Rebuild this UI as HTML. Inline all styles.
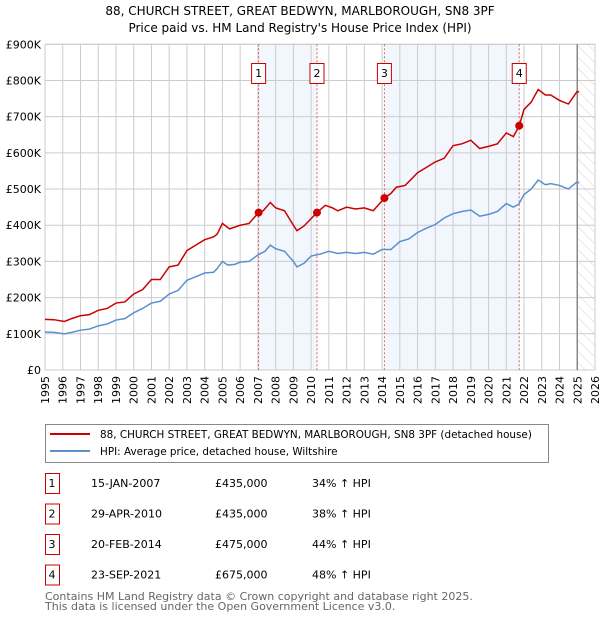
<!DOCTYPE html>
<html><head><meta charset="utf-8"><style>
body{margin:0;background:#fff;font-family:"DejaVu Sans","Liberation Sans",sans-serif;}
svg text{font-family:"DejaVu Sans","Liberation Sans",sans-serif;}
</style></head><body>
<svg id="chart" width="600" height="620" viewBox="0 0 600 620" xmlns="http://www.w3.org/2000/svg">
<defs><pattern id="hatch" width="8" height="8" patternUnits="userSpaceOnUse" patternTransform="rotate(-45)"><line x1="0" y1="0" x2="0" y2="8" stroke="#c8c8c8" stroke-width="0.8"/></pattern></defs>
<text x="300" y="15" font-size="12" text-anchor="middle">88, CHURCH STREET, GREAT BEDWYN, MARLBOROUGH, SN8 3PF</text>
<text x="300" y="32" font-size="12" text-anchor="middle">Price paid vs. HM Land Registry's House Price Index (HPI)</text>
<g id="plot"></g>
<g>
<rect x="45.5" y="424.5" width="503" height="38" fill="#fff" stroke="#888"/>
<line x1="50" y1="434" x2="90" y2="434" stroke="#cc0000" stroke-width="2"/>
<text x="100" y="438" font-size="10.4">88, CHURCH STREET, GREAT BEDWYN, MARLBOROUGH, SN8 3PF (detached house)</text>
<line x1="50" y1="451" x2="90" y2="451" stroke="#5b8fd0" stroke-width="2"/>
<text x="100" y="455" font-size="10.4">HPI: Average price, detached house, Wiltshire</text>
</g>
<g id="table" font-size="11"></g>
<text x="45" y="600" font-size="11" fill="#666">Contains HM Land Registry data © Crown copyright and database right 2025.</text>
<text x="45" y="610" font-size="11" fill="#666">This data is licensed under the Open Government Licence v3.0.</text>
</svg>
<script>
const hpiYears=[1995,1995.5,1996.1,1996.5,1997,1997.5,1998,1998.5,1999,1999.5,2000,2000.5,2001,2001.5,2002,2002.5,2003,2003.5,2004,2004.5,2004.7,2005,2005.3,2005.7,2006,2006.5,2007,2007.4,2007.7,2008,2008.5,2009,2009.2,2009.6,2010,2010.5,2011,2011.5,2012,2012.5,2013,2013.5,2014,2014.5,2015,2015.5,2016,2016.5,2017,2017.5,2018,2018.5,2019,2019.5,2020,2020.5,2021,2021.4,2021.7,2022,2022.4,2022.8,2023.2,2023.5,2024,2024.5,2025,2025.1];
const hpiValues=[105,104,100,104,110,113,122,127,138,142,158,170,185,190,210,220,248,258,268,270,280,300,290,292,298,300,318,328,345,335,328,300,285,295,315,320,328,322,325,322,325,320,333,333,355,362,380,392,402,420,432,438,442,425,430,438,460,450,458,485,500,525,512,515,510,500,520,517];
const priceYears=[1995,1995.5,1996.1,1996.5,1997,1997.5,1998,1998.5,1999,1999.5,2000,2000.5,2001,2001.5,2002,2002.5,2003,2003.5,2004,2004.5,2004.7,2005,2005.4,2006,2006.5,2007.04,2007.3,2007.7,2008,2008.5,2009,2009.2,2009.6,2010.33,2010.8,2011.2,2011.5,2012,2012.5,2013,2013.5,2014.13,2014.5,2014.8,2015.3,2016,2016.5,2017,2017.5,2018,2018.5,2019,2019.5,2020,2020.5,2021,2021.4,2021.73,2022,2022.4,2022.8,2023.2,2023.5,2024,2024.5,2025,2025.1];
const priceValues=[140,139,134,142,150,153,165,170,185,188,210,222,250,250,285,290,330,345,360,368,375,405,390,400,405,435,440,463,448,440,400,385,398,435,455,448,440,450,445,448,440,475,488,505,510,545,560,575,585,620,625,635,612,618,625,655,645,675,720,740,775,760,760,745,735,770,768];
const saleYears=[2007.04,2010.33,2014.13,2021.73];
const saleValues=[435,435,475,675];
const saleLabels=["1","2","3","4"];
const saleDates=["15-JAN-2007","29-APR-2010","20-FEB-2014","23-SEP-2021"];
const salePrices=["£435,000","£435,000","£475,000","£675,000"];
const saleHpi=["34% ↑ HPI","38% ↑ HPI","44% ↑ HPI","48% ↑ HPI"];
const yTicks=[0,100,200,300,400,500,600,700,800,900];
const yTickLabels=["£0","£100K","£200K","£300K","£400K","£500K","£600K","£700K","£800K","£900K"];
const xTicks=[1995,1996,1997,1998,1999,2000,2001,2002,2003,2004,2005,2006,2007,2008,2009,2010,2011,2012,2013,2014,2015,2016,2017,2018,2019,2020,2021,2022,2023,2024,2025,2026];

const NS="http://www.w3.org/2000/svg";
const L=45,R=595,T=44.3,B=370;
const xs=y=>L+(y-1995)*(R-L)/31;
const ys=v=>B-v*(B-T)/900;
const g=document.getElementById('plot');
function mk(tag,attrs,parent){const e=document.createElementNS(NS,tag);for(const k in attrs)e.setAttribute(k,attrs[k]);(parent||g).appendChild(e);return e;}
for(const [a,b] of [[0,1],[2,3]]){
 const r=mk('rect',{x:xs(saleYears[a]),y:T,width:xs(saleYears[b])-xs(saleYears[a]),height:B-T,fill:'#f2f6fd'});
 
 
}
const hr=mk('rect',{x:xs(2025),y:T,width:R-xs(2025),height:B-T,fill:'url(#hatch)'});


yTicks.forEach((v,i)=>{
 const ln=mk('line',{x1:L,x2:R,y1:ys(v),y2:ys(v),stroke:'#ccc'});
 
 
 const t=mk('text',{x:L-4,y:ys(v)+4,'font-size':11,'text-anchor':'end'});
 t.textContent=yTickLabels[i];
 
 
});
xTicks.forEach(y=>{
 const ln=mk('line',{x1:xs(y),x2:xs(y),y1:T,y2:B,stroke:'#ccc'});
 
 
 const t=mk('text',{x:0,y:0,'font-size':11,'text-anchor':'end',transform:`translate(${xs(y)+4},${B+6}) rotate(-90)`});
 t.textContent=y;
 
 
});
mk('rect',{x:L,y:T,width:R-L,height:B-T,fill:'none',stroke:'#ccc'});
const v25=mk('line',{x1:xs(2025),x2:xs(2025),y1:T,y2:B,stroke:'#888','stroke-width':1.5});


saleYears.forEach((y,i)=>{
 const ln=mk('line',{x1:xs(y),x2:xs(y),y1:T,y2:B,stroke:'#e06060','stroke-dasharray':'2,2'});
 
 
 const b=mk('rect',{x:xs(y)-7,y:63.5,width:14,height:20,fill:'#fff',stroke:'#cc0000'});
 
 
 const t=mk('text',{x:xs(y),y:77,'font-size':11,'text-anchor':'middle'});
 t.textContent=saleLabels[i];
 
 
});
function line(xsA,vsA,color,name){
 const p=mk('polyline',{points:xsA.map((y,i)=>xs(y)+','+ys(vsA[i])).join(' '),fill:'none',stroke:color,'stroke-width':1.5});
 
 
}
line(hpiYears,hpiValues,'#5b8fd0','hpi-line');
line(priceYears,priceValues,'#cc0000','price-line');
saleYears.forEach((y,i)=>{
 const c=mk('circle',{cx:xs(y),cy:ys(saleValues[i]),r:4,fill:'#cc0000'});
 
 
});
const tb=document.getElementById('table');
saleLabels.forEach((s,i)=>{
 const yy=483+i*30.5;
 const b=mk('rect',{x:45.5,y:yy-9.5,width:14,height:20,fill:'#fff',stroke:'#cc0000'},tb);
 
 
 const cols=[[52,s,'middle'],[91,saleDates[i],'start'],[215,salePrices[i],'start'],[312,saleHpi[i],'start']];
 cols.forEach(c=>{
  const t=mk('text',{x:c[0],y:yy+4,'text-anchor':c[2]},tb);
  t.textContent=c[1];
  
  
 });
});
</script>
</body></html>
